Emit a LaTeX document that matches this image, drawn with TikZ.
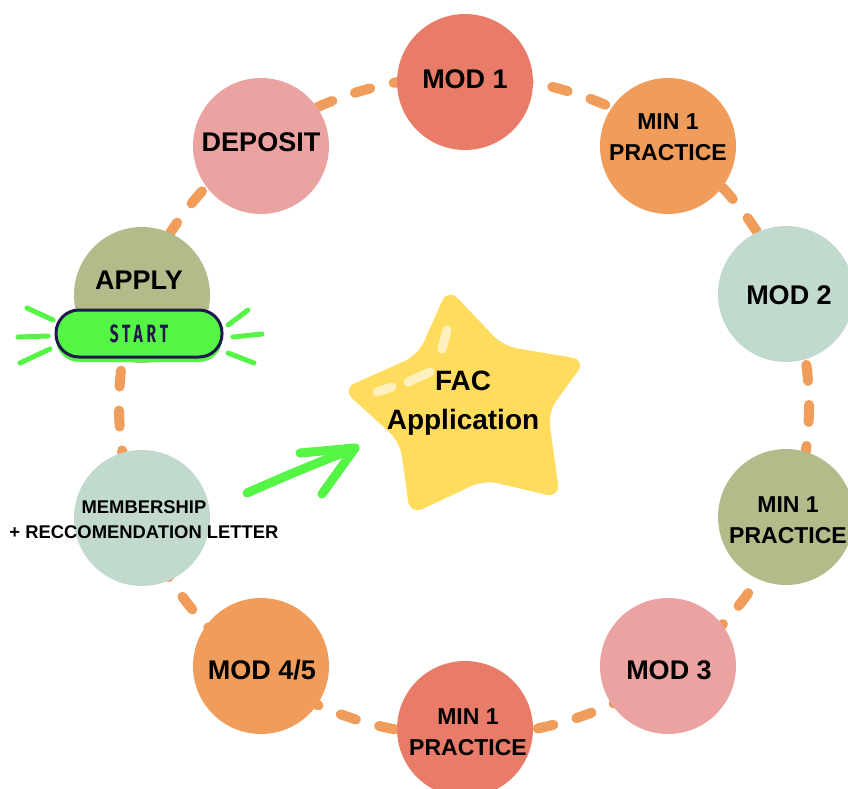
\documentclass[tikz,border=0pt]{standalone}
\usepackage{fontspec}
\setmainfont{Liberation Sans}
\newfontfamily\startfont[LetterSpace=25]{Fira Sans}
\usetikzlibrary{positioning}

\definecolor{salmon}{HTML}{E97C68}
\definecolor{rosy}{HTML}{EBA3A2}
\definecolor{peach}{HTML}{F09D5C}
\definecolor{mint}{HTML}{C2D9CE}
\definecolor{olive}{HTML}{B3BB8B}
\definecolor{sunny}{HTML}{FFDC5E}
\definecolor{neon}{HTML}{55F545}
\definecolor{navy}{HTML}{1F1A4B}

\tikzset{
  stop/.style={circle, fill=#1, minimum size=136pt, inner sep=0pt},
  bigtext/.style={font=\fontsize{27}{32}\selectfont\bfseries},
  twoline/.style={font=\fontsize{23}{31}\selectfont\bfseries, align=center},
  ringline/.style={line width=10pt, line cap=round, dash pattern=on 16pt off 24pt, color=peach},
  ray/.style={line width=5pt, line cap=round, color=neon},
  arrowline/.style={line width=9pt, line cap=round, line join=round, color=neon},
  shine/.style={line width=9pt, line cap=round, color=white, opacity=0.6},
  startbtn/.style={rectangle, rounded corners=23pt, minimum width=166pt, minimum height=47pt,
    draw=navy, line width=3pt, fill=neon, text=navy,
    font=\startfont\bfseries\fontsize{25}{25}\selectfont,
    preaction={fill=neon, transform canvas={yshift=-5pt}}},
}

\begin{document}
\begin{tikzpicture}[x=1pt, y=-1pt]

  \useasboundingbox (0,0) rectangle (848,789);

  \newcommand\RINGX{345}
  \newcommand\RINGY{330}

  % dashed ring behind the stops
  \coordinate (hub) at (464,406);
  \draw[ringline] (hub) ellipse [x radius=\RINGX, y radius=\RINGY];

  % stops, clockwise from the top
  \node[stop=salmon] (mod1) at (465,82) {};
  \node[stop=peach] (minA) at (668,146) {};
  \node[stop=mint] (mod2) at (786,294) {};
  \node[stop=olive] (minB) at (786,517) {};
  \node[stop=rosy] (mod3) at (668,666) {};
  \node[stop=salmon] (minC) at (465,729) {};
  \node[stop=peach] (modF) at (261,666) {};
  \node[stop=mint] (member) at (142,518) {};
  \node[stop=olive] (apply) at (142,295) {};
  \node[stop=rosy] (deposit) at (261,146) {};

  \node[bigtext] (mod1txt) at (465,79) {MOD 1};
  \node[twoline] (minAtxt) at (668,137.5) {MIN 1\\PRACTICE};
  \node[bigtext] (mod2txt) at (789,295) {MOD 2};
  \node[twoline] (minBtxt) at (788,520) {MIN 1\\PRACTICE};
  \node[bigtext] (mod3txt) at (669,670) {MOD 3};
  \node[twoline] (minCtxt) at (468,732.5) {MIN 1\\PRACTICE};
  \node[bigtext] (modFtxt) at (262,670) {MOD 4/5};
  \node[font=\fontsize{18.4}{25}\selectfont\bfseries, align=center] (membertxt) at (144,520)
    {MEMBERSHIP\\+ RECCOMENDATION LETTER};
  \node[bigtext] (applytxt) at (139,280) {APPLY};
  \node[bigtext] (deposittxt) at (261,142) {DEPOSIT};

  % start button with rays
  \node[startbtn] (start) at (139,333.5) {\scalebox{0.62}[1]{START}};

  \draw[ray] (27,308) -- (53,320);
  \draw[ray] (18,337) -- (48,336);
  \draw[ray] (20,363) -- (50,349);
  \draw[ray] (228,325) -- (248,310);
  \draw[ray] (233,337) -- (262,334);
  \draw[ray] (228,353) -- (254,363);

  % star
  \fill[sunny, rounded corners=14pt] (448,288) -- (503,346) -- (586,360) -- (548,412)
    -- (560,498) -- (484,480) -- (410,515) -- (400,442) -- (342,389) -- (418,355) -- cycle;
  \draw[shine] (447,330) -- (442,349);
  \draw[shine] (408,382) -- (430,372);
  \draw[shine] (377,392) -- (392,387);
  \node[font=\fontsize{28}{39}\selectfont\bfseries, align=center] (fac) at (463,403.5)
    {FAC\\Application};

  % green arrow towards the star
  \coordinate (tail) at (247,493);
  \coordinate (tip) at (355,448);
  \draw[arrowline] (tail) .. controls (295,472) .. (tip);
  \draw[arrowline] (300,453) -- (tip) -- (322,494);

\end{tikzpicture}
\end{document}
